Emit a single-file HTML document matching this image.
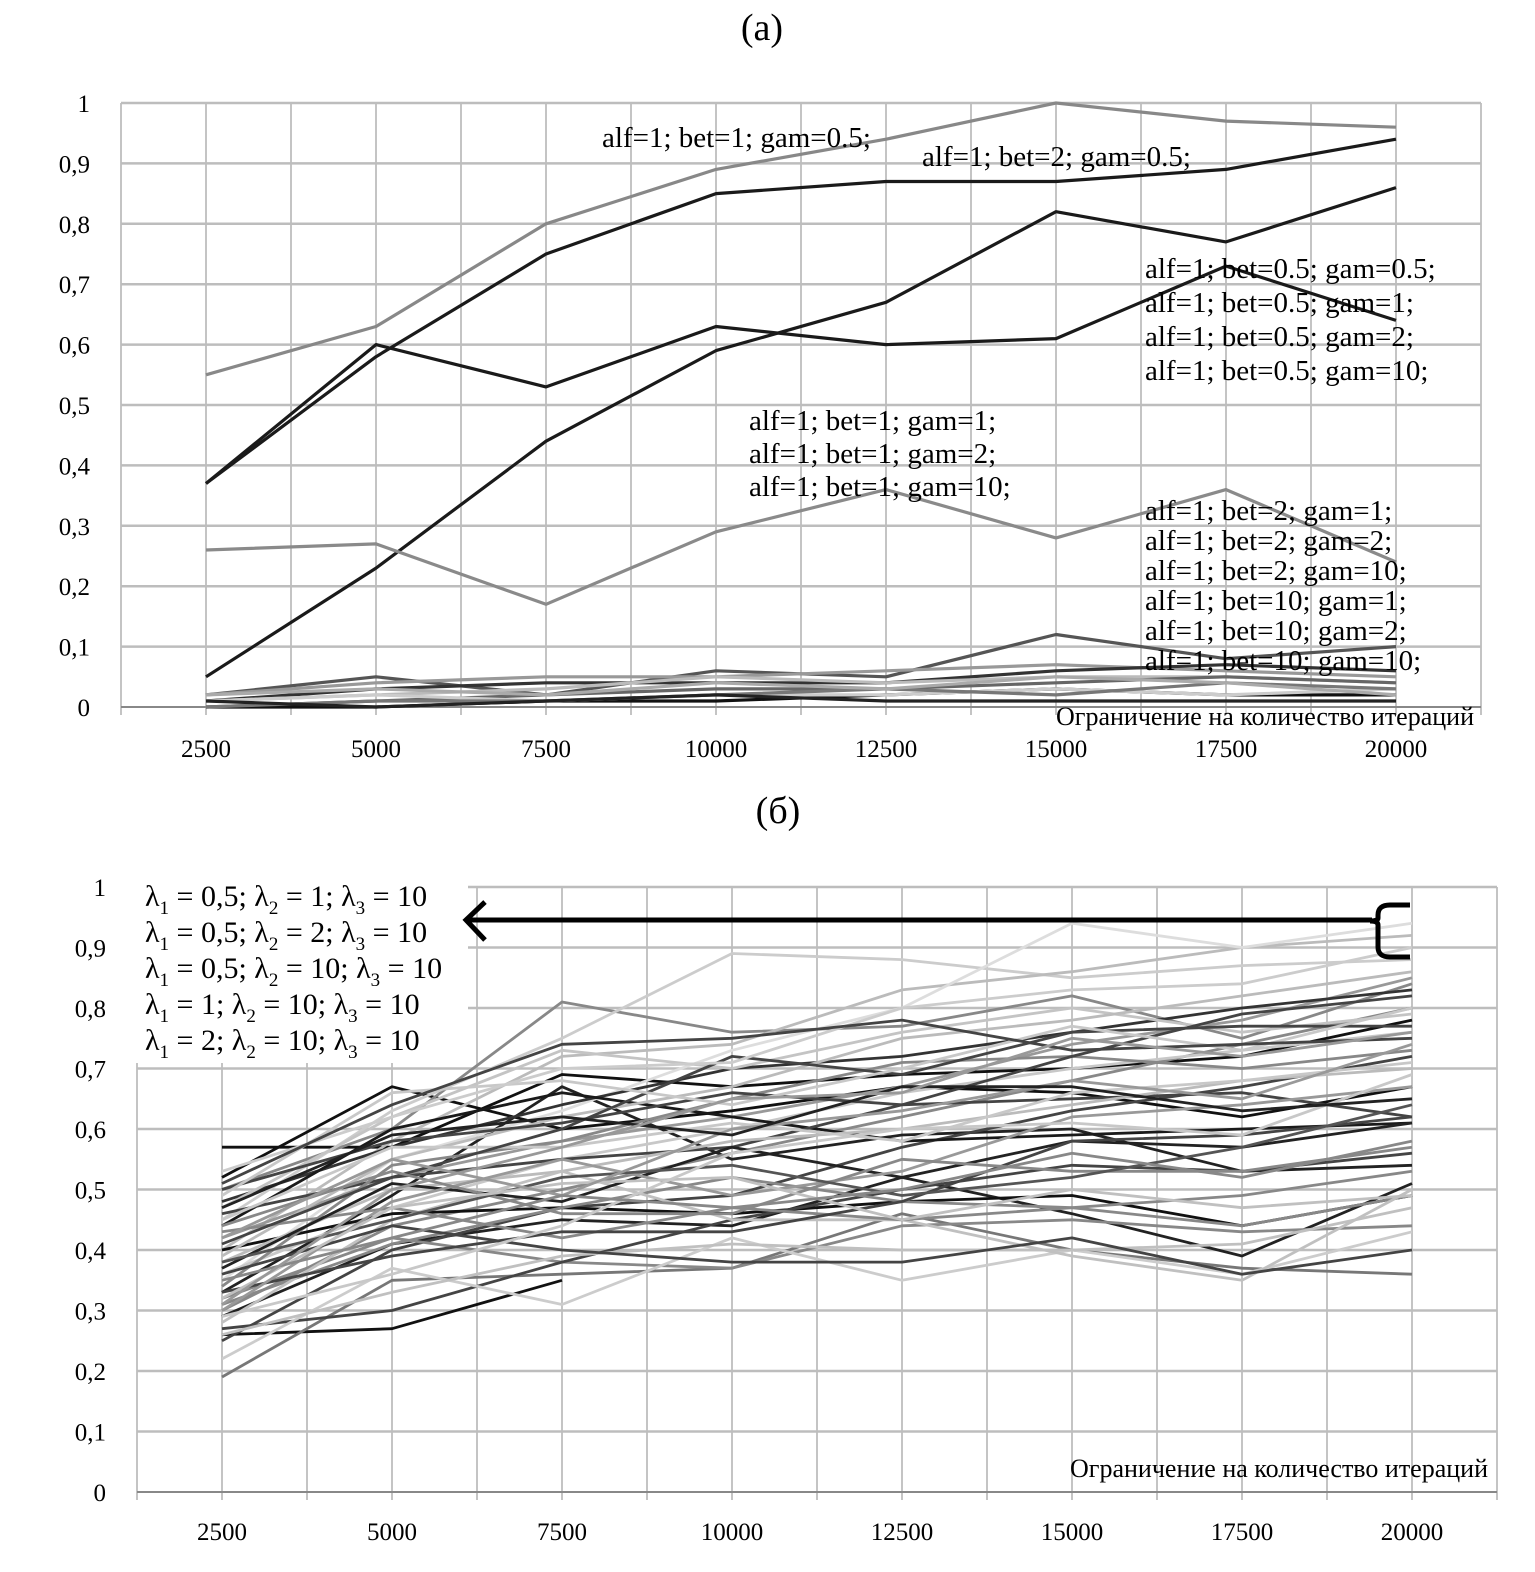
<!DOCTYPE html>
<html><head><meta charset="utf-8">
<style>
html,body{margin:0;padding:0;background:#fff;}
svg{display:block;font-family:"Liberation Serif",serif;}
</style></head>
<body>
<svg id="chart" width="1535" height="1572" viewBox="0 0 1535 1572"></svg>
<script>
const xCategories = [2500,5000,7500,10000,12500,15000,17500,20000];
const yTicks = [0,0.1,0.2,0.3,0.4,0.5,0.6,0.7,0.8,0.9,1];
const yTickLabels = ["0","0,1","0,2","0,3","0,4","0,5","0,6","0,7","0,8","0,9","1"];

// Chart (a) series
const topSeries = [
 [.55,.63,.80,.89,.94,1.0,.97,.96],
 [.37,.58,.75,.85,.87,.87,.89,.94],
 [.37,.60,.53,.63,.60,.61,.73,.64],
 [.05,.23,.44,.59,.67,.82,.77,.86],
 [.26,.27,.17,.29,.36,.28,.36,.24],
 [.02,.05,.02,.06,.05,.12,.08,.10],
 [.02,.04,.05,.05,.06,.07,.06,.05],
 [.01,.03,.04,.04,.04,.06,.07,.06],
 [.01,.02,.03,.05,.04,.05,.05,.04],
 [.00,.01,.02,.03,.03,.04,.05,.04],
 [.00,.00,.01,.01,.02,.03,.02,.02],
 [.01,.02,.01,.02,.02,.03,.02,.03],
 [.00,.01,.01,.02,.03,.02,.04,.03],
 [.02,.03,.02,.04,.03,.05,.04,.02],
 [.01,.00,.01,.02,.01,.01,.01,.01]
];
const topColors = ["#888","#1a1a1a","#1a1a1a","#1a1a1a","#8a8a8a","#555","#999","#333","#bbb","#666","#111","#ccc","#777","#aaa","#222"];

// Chart (б) series
const botSeries = [
 [.57,.57,.69,.67,.69,.70,.72,.78],
 [.26,.27,.35,null,null,null,null,null],
 [.19,.35,.36,.37,.46,.40,.37,.36],
 [.52,.67,.60,.63,.67,.66,.62,.67],
 [.29,.41,.45,.44,.52,.46,.39,.51],
 [.33,.49,.67,.55,.59,.60,.53,.54],
 [.50,.60,.81,.76,.77,.82,.75,.84],
 [.45,.63,.75,.89,.88,.85,.87,.88],
 [.40,.58,.72,.74,.83,.86,.90,.92],
 [.35,.55,.63,.73,.80,.94,.90,.94],
 [.25,.40,.47,.49,.57,.63,.67,.72],
 [.30,.44,.50,.56,.62,.68,.74,.80],
 [.42,.52,.58,.62,.67,.74,.78,.85],
 [.48,.57,.64,.70,.72,.76,.80,.83],
 [.36,.47,.55,.60,.66,.70,.73,.76],
 [.32,.42,.38,.37,.44,.45,.43,.44],
 [.40,.46,.47,.46,.48,.49,.44,.49],
 [.27,.30,.38,.45,.50,.54,.53,.56],
 [.44,.60,.66,.62,.58,.59,.60,.61],
 [.46,.52,.55,.57,.64,.65,.66,.62],
 [.38,.50,.53,.58,.60,.64,.68,.70],
 [.31,.41,.47,.52,.48,.47,.44,.49],
 [.22,.37,.31,.42,.35,.40,.36,.43],
 [.28,.45,.53,.45,.45,.39,.35,.50],
 [.34,.54,.58,.65,.71,.72,.70,.73],
 [.47,.62,.73,.70,.76,.80,.76,.79],
 [.39,.55,.62,.67,.75,.78,.82,.86],
 [.50,.58,.61,.66,.64,.72,.79,.82],
 [.43,.47,.42,.47,.45,.47,.49,.53],
 [.37,.51,.48,.57,.52,.58,.57,.61],
 [.33,.39,.43,.43,.48,.58,.59,.62],
 [.45,.57,.57,.61,.58,.66,.68,.71],
 [.41,.52,.60,.72,.69,.76,.77,.77],
 [.30,.48,.55,.49,.53,.62,.64,.67],
 [.49,.66,.68,.64,.70,.77,.73,.80],
 [.26,.33,.39,.41,.40,.40,.41,.47],
 [.36,.44,.40,.38,.38,.42,.36,.40],
 [.44,.53,.46,.46,.55,.53,.53,.57],
 [.53,.62,.70,.71,.80,.83,.84,.90],
 [.38,.45,.52,.54,.49,.52,.57,.64],
 [.32,.47,.51,.52,.45,.50,.47,.49],
 [.51,.64,.74,.75,.78,.73,.74,.75],
 [.29,.36,.44,.56,.60,.61,.59,.69],
 [.42,.55,.49,.60,.63,.68,.65,.74],
 [.47,.59,.62,.59,.67,.67,.63,.65],
 [.35,.42,.49,.47,.50,.56,.52,.58],
 [.31,.50,.57,.65,.66,.75,.72,.76]
];
const botColors = ["#111","#111","#777","#111","#222","#222","#888","#ccc","#bbb","#ddd","#444","#888","#999","#333","#c8c8c8","#888","#111","#444","#1a1a1a","#444","#bbb","#888","#ccc","#c0c0c0","#888","#c4c4c4","#bbb","#444","#888","#222","#444","#c8c8c8","#444","#999","#c8c8c8","#c0c0c0","#444","#888","#ccc","#555","#c0c0c0","#444","#c8c8c8","#999","#222","#888","#999"];

const NS="http://www.w3.org/2000/svg";
const svg=document.getElementById('chart');
function mk(tag,attrs,parent){const e=document.createElementNS(NS,tag);for(const k in attrs)e.setAttribute(k,attrs[k]);(parent||svg).appendChild(e);return e;}

function drawChart(cfg){
  const g=mk('g',{});
  
  
  const xs=v=>cfg.x0+(v-1250)*cfg.kx;
  const ys=v=>cfg.y0-v*cfg.ky;
  const xr=xs(21250);
  for(let v=1250;v<=21250;v+=1250){
    const gl=mk('line',{x1:xs(v),x2:xs(v),y1:ys(1),y2:ys(0)+8,stroke:'#c4c4c4','stroke-width':2},g);
    
    
  }
  yTicks.forEach((t,i)=>{
    const hl=mk('line',{x1:xs(1250),x2:xr,y1:ys(t),y2:ys(t),stroke:t===0?'#888':'#bdbdbd','stroke-width':t===0?2:2.5},g);
    
    
    const tl=mk('text',{x:cfg.labelX,y:ys(t)+9,'text-anchor':'end','font-size':25},g);
    tl.textContent=yTickLabels[i];
    
    
  });
  xCategories.forEach(c=>{
    const t=mk('text',{x:xs(c),y:ys(0)+cfg.xlabOff,'text-anchor':'middle','font-size':25},g);
    t.textContent=String(c);
    
    
  });
  if(cfg.cover){
    const r=mk('rect',cfg.cover,g);
    
    
  }
  cfg.series.forEach((s,si)=>{
    let d='';let pen=false;
    s.forEach((v,i)=>{ if(v===null){pen=false;return;} d+=(pen?'L':'M')+xs(xCategories[i]).toFixed(1)+','+ys(v).toFixed(1)+' '; pen=true;});
    const p=mk('path',{d:d,fill:'none',stroke:cfg.colors[si%cfg.colors.length],'stroke-width':cfg.sw,'stroke-linejoin':'round'},g);
    
    
  });
  return {xs,ys,g};
}

const A=drawChart({name:'chart-a',x0:121,kx:0.068,y0:707,ky:604,labelX:90,xlabOff:50,series:topSeries,colors:topColors,sw:3.2});
const B=drawChart({name:'chart-b',x0:137,kx:0.068,y0:1492,ky:605,labelX:106,xlabOff:48,series:botSeries,colors:botColors,sw:2.8,
  cover:{x:130,y:870,width:338,height:193,fill:'#fff'}});

function txt(x,y,s,size,name,anchor){const t=mk('text',{x:x,y:y,'font-size':size,'text-anchor':anchor||'start'});t.textContent=s;return t;}

txt(762,40,'(a)',38,'panel-a-title','middle');
txt(778,823,'(б)',38,'panel-b-title','middle');

const ann=[
 [602,147,'alf=1; bet=1; gam=0.5;'],
 [922,166,'alf=1; bet=2; gam=0.5;'],
 [1145,278,'alf=1; bet=0.5; gam=0.5;'],
 [1145,312,'alf=1; bet=0.5; gam=1;'],
 [1145,346,'alf=1; bet=0.5; gam=2;'],
 [1145,380,'alf=1; bet=0.5; gam=10;'],
 [749,430,'alf=1; bet=1; gam=1;'],
 [749,463,'alf=1; bet=1; gam=2;'],
 [749,496,'alf=1; bet=1; gam=10;'],
 [1145,520,'alf=1; bet=2; gam=1;'],
 [1145,550,'alf=1; bet=2; gam=2;'],
 [1145,580,'alf=1; bet=2; gam=10;'],
 [1145,610,'alf=1; bet=10; gam=1;'],
 [1145,640,'alf=1; bet=10; gam=2;'],
 [1145,670,'alf=1; bet=10; gam=10;']
];
ann.forEach(a=>txt(a[0],a[1],a[2],29,'series-annotation'));
txt(1474,725,'Ограничение на количество итераций',26,'x-axis-title-a','end');
txt(1488,1477,'Ограничение на количество итераций',26,'x-axis-title-b','end');

const leg=[['0,5','1'],['0,5','2'],['0,5','10'],['1','10'],['2','10']];
leg.forEach((l,i)=>{
  const y=906+i*36;
  const t=mk('text',{x:145,y:y,'font-size':30});
  
  
  t.innerHTML='λ<tspan font-size="19" dy="8">1</tspan><tspan dy="-8"> = '+l[0]+'; λ</tspan><tspan font-size="19" dy="8">2</tspan><tspan dy="-8"> = '+l[1]+'; λ</tspan><tspan font-size="19" dy="8">3</tspan><tspan dy="-8"> = 10</tspan>';
});
const arrow=mk('path',{d:'M1372,920 L468,920 M485,902 L466,920 L485,940',fill:'none',stroke:'#000','stroke-width':5});


const brace=mk('path',{d:'M1410,905 L1390,905 Q1378,905 1378,915 L1378,918 Q1378,921 1370,921 Q1378,921 1378,925 L1378,947 Q1378,957 1390,957 L1410,957',fill:'none',stroke:'#000','stroke-width':5});


</script>
</body></html>
